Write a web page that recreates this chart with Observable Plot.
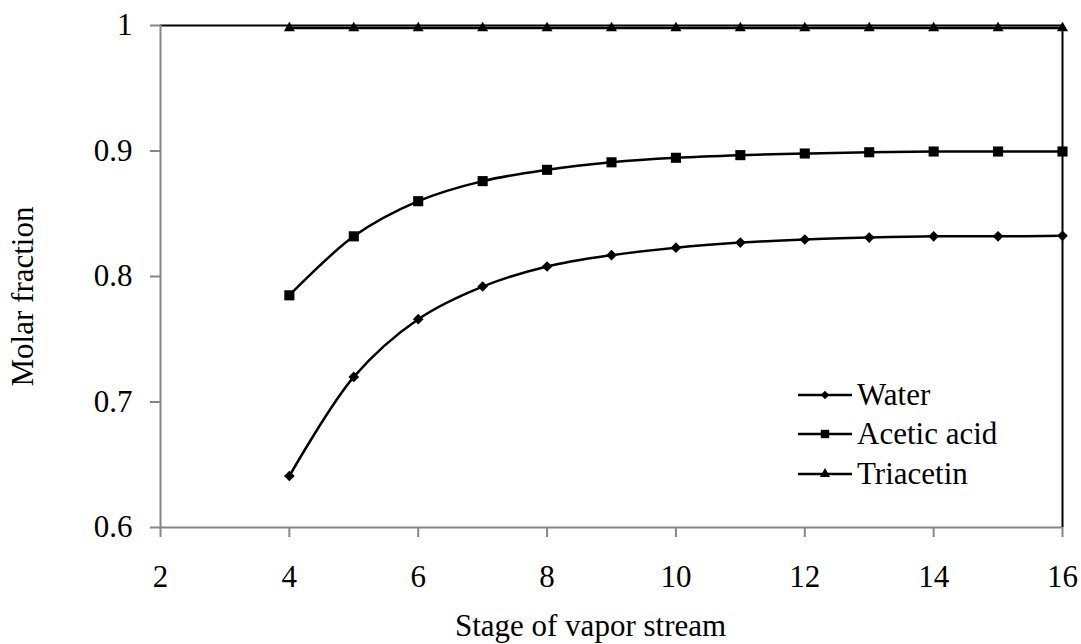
<!DOCTYPE html>
<html>
<head>
<meta charset="utf-8">
<script src="https://cdn.jsdelivr.net/npm/d3@7"></script>
<script src="https://cdn.jsdelivr.net/npm/@observablehq/plot@0.6"></script>
<style>
  html, body { margin: 0; padding: 0; background: #fff; }
  #wrap { position: relative; width: 1081px; height: 644px; font-family: "Liberation Serif", "Times New Roman", Times, serif; }
  #legend { position: absolute; left: 798px; top: 375px; font-size: 31px; color: #000; }
  #legend .row { display: flex; align-items: center; height: 39.5px; }
  #legend svg { display: block; margin-right: 5px; }
</style>
</head>
<body>
<div id="wrap"><div id="legend"></div></div>
<script>
// ---- data ----
const stages = [4, 5, 6, 7, 8, 9, 10, 11, 12, 13, 14, 15, 16];
const water = [0.641, 0.720, 0.766, 0.792, 0.808, 0.817, 0.823, 0.827, 0.8295, 0.831, 0.832, 0.832, 0.8324];
const aceticAcid = [0.785, 0.832, 0.860, 0.876, 0.885, 0.891, 0.8946, 0.8967, 0.898, 0.899, 0.8996, 0.8996, 0.8996];
const triacetin = [0.998, 0.998, 0.998, 0.998, 0.998, 0.998, 0.998, 0.998, 0.998, 0.998, 0.998, 0.998, 0.998];
const seriesNames = ["Water", "Acetic acid", "Triacetin"];
const seriesSymbols = ["diamond2", "square", "triangle"];
const xTicks = [2, 4, 6, 8, 10, 12, 14, 16];
const yTicks = [0.6, 0.7, 0.8, 0.9, 1];
const xTitle = "Stage of vapor stream";
const yTitle = "Molar fraction";

const seriesValues = [water, aceticAcid, triacetin];
const rows = [];
seriesNames.forEach((name, i) => {
  stages.forEach((s, j) => rows.push({series: name, stage: s, value: seriesValues[i][j]}));
});

const symbolSize = {"Water": 4.8, "Acetic acid": 5.7, "Triacetin": 4.1};
const FONT = "'Liberation Serif', 'Times New Roman', Times, serif";

const chart = Plot.plot({
  width: 1081,
  height: 644,
  marginLeft: 160,
  marginRight: 19,
  marginTop: 25,
  marginBottom: 117,
  style: {fontFamily: FONT, background: "#fff", color: "#000"},
  x: {domain: [2, 16]},
  y: {domain: [0.6, 1]},
  symbol: {domain: seriesNames, range: seriesSymbols},
  marks: [
    Plot.ruleY([1], {stroke: "#000", strokeWidth: 2}),
    Plot.ruleX([16], {stroke: "#000", strokeWidth: 2}),
    Plot.ruleX([2], {stroke: "#868686", strokeWidth: 2}),
    Plot.ruleY([0.6], {stroke: "#868686", strokeWidth: 2}),
    Plot.axisY({ticks: yTicks, tickSize: 10, tickPadding: 18, stroke: "#868686", strokeWidth: 2, fontSize: 31, fontFamily: FONT, label: null, tickFormat: d => String(+d.toFixed(1))}),
    Plot.axisX({ticks: xTicks, tickSize: 10, tickPadding: 27, stroke: "#868686", strokeWidth: 2, fontSize: 31, fontFamily: FONT, label: null, tickFormat: d => String(d)}),
    Plot.line(rows, {x: "stage", y: "value", z: "series", stroke: "#000", strokeWidth: 2.5, curve: "catmull-rom"}),
    ...seriesNames.map(name => Plot.dot(rows.filter(d => d.series === name), {x: "stage", y: "value", symbol: "series", r: symbolSize[name], fill: "#000", stroke: "none"})),
    Plot.text([xTitle], {frameAnchor: "bottom", textAnchor: "middle", dx: -21, dy: 99, fontSize: 31, fontFamily: FONT, lineAnchor: "middle", fill: "#000"}),
    Plot.text([yTitle], {frameAnchor: "left", textAnchor: "middle", dx: -137, dy: 20, rotate: -90, fontSize: 31, fontFamily: FONT, lineAnchor: "middle", fill: "#000"})
  ]
});
document.getElementById("wrap").prepend(chart);

// legend
const legend = d3.select("#legend");
const legendSym = {"Water": d3.symbolDiamond2, "Acetic acid": d3.symbolSquare, "Triacetin": d3.symbolTriangle};
const legendSize = {"Water": 45, "Acetic acid": 70, "Triacetin": 45};
seriesNames.forEach(name => {
  const row = legend.append("div").attr("class", "row");
  const s = row.append("svg").attr("width", 54).attr("height", 20);
  s.append("line").attr("x1", 0).attr("x2", 54).attr("y1", 10).attr("y2", 10).attr("stroke", "#000").attr("stroke-width", 2.5);
  s.append("path").attr("transform", "translate(27,10)").attr("d", d3.symbol(legendSym[name], legendSize[name])()).attr("fill", "#000");
  row.append("span").text(name);
});
</script>
</body>
</html>
